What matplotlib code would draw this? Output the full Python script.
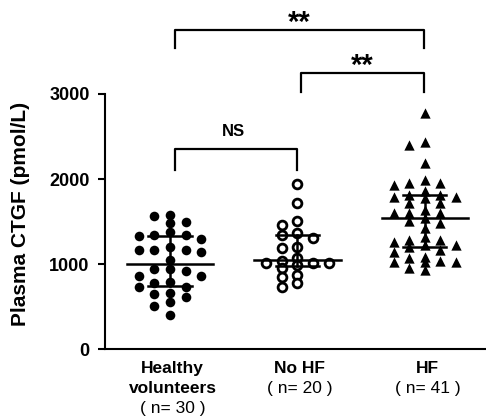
import numpy as np
import matplotlib
matplotlib.use("Agg")
import matplotlib.pyplot as plt

plt.rcParams['font.family'] = ['Liberation Sans', 'DejaVu Sans']

# values (pmol/L)
healthy = [1574, 1571, 1496, 1484, 1378, 1338, 1338, 1335, 1299, 1201,
           1169, 1169, 1169, 1149, 1051, 945, 945, 925, 862, 862,
           795, 776, 729, 729, 658, 650, 611, 559, 508, 402]
no_hf = [1945, 1721, 1511, 1460, 1363, 1343, 1304, 1206, 1187, 1069,
         1040, 1011, 1011, 1011, 991, 952, 873, 853, 776, 736]
hf = [2775, 2436, 2397, 2185, 1989, 1958, 1950, 1930, 1864, 1813,
      1813, 1793, 1793, 1774, 1716, 1716, 1637, 1598, 1598, 1598,
      1539, 1504, 1481, 1422, 1323, 1284, 1284, 1264, 1225, 1225,
      1206, 1170, 1147, 1081, 1069, 1041, 1029, 1029, 1029, 952, 932]

groups = [healthy, no_hf, hf]
names = [["Healthy", "volunteers"], ["No HF"], ["HF"]]
counts = ["( n= 30 )", "( n= 20 )", "( n= 41 )"]
# comparisons: (left group, right group, label)
comparisons = [(0, 2, "**"), (1, 2, "**"), (0, 1, "NS")]


def swarm(vals, step=0.122, gap=85):
    # simple grid beeswarm, at most 5 columns
    vals = np.asarray(vals, float)
    order = np.argsort(vals)[::-1]
    placed = {}
    offs = np.zeros(len(vals))
    slots = [0, -1, 1, -2, 2]
    for i in order:
        v = vals[i]
        best, bestd = 0, -1
        for k in slots:
            d = min([abs(v - u) for u in placed.get(k, [])] + [1e9])
            if d >= gap:
                best = k
                break
            if d > bestd:
                best, bestd = k, d
        placed.setdefault(best, []).append(v)
        offs[i] = best * step
    return offs


fig = plt.figure(figsize=(4.86, 4.2), dpi=100)
ax = fig.add_axes([105 / 486, 70.7 / 420, 381 / 486, 334.3 / 420])

styles = [dict(marker='o', s=48, c='black', edgecolors='black', linewidths=0),
          dict(marker='o', s=40, facecolors='white', edgecolors='black', linewidths=2.0),
          dict(marker='^', s=55, c='black', edgecolors='black', linewidths=0)]

for i, vals in enumerate(groups):
    x = i + swarm(vals)
    ax.scatter(x, vals, zorder=2, **styles[i])
    q1, med, q3 = np.percentile(vals, [25, 50, 75])
    ax.plot([i - 0.34, i + 0.34], [med, med], color='black', lw=1.8, zorder=3)
    ax.plot([i - 0.17, i + 0.17], [q1, q1], color='black', lw=1.8, zorder=3)
    ax.plot([i - 0.17, i + 0.17], [q3, q3], color='black', lw=1.8, zorder=3)
    ax.plot([i, i], [q1, q3], color='black', lw=1.8, zorder=3)

# significance brackets
bracket_y = [3752, 3250, 2354]
leg = [211, 223, 247]
left_x = {0: 0.04, 1: 1.03}
for (a, b, lab), y, d in zip(comparisons, bracket_y, leg):
    xa = left_x[a] if lab != "NS" else a + 0.04
    xb = b - 0.01 if lab != "NS" else b
    ax.plot([xa, xa, xb, xb], [y - d, y, y, y - d], color='black', lw=1.6,
            clip_on=False)
    if lab == "NS":
        ax.text((xa + xb) / 2 - 0.02, y + 120, lab, ha='center', va='bottom',
                fontsize=12, fontweight='bold')
    else:
        ax.text((xa + xb) / 2, y - 80, lab, ha='center', va='bottom',
                fontsize=21, fontweight='bold')

ax.set_xlim(-0.51, 2.48)
ax.set_ylim(0, 3928)
ax.set_yticks([0, 1000, 2000, 3000])
ax.set_xticks([])
ax.spines['top'].set_visible(False)
ax.spines['right'].set_visible(False)
ax.spines['left'].set_bounds(0, 3000)
ax.spines['left'].set_linewidth(1.5)
ax.spines['bottom'].set_linewidth(1.5)
ax.tick_params(axis='y', length=5, width=1.5, pad=6, labelsize=13)
for t in ax.get_yticklabels():
    t.set_fontweight('bold')

ax.set_ylabel("Plasma CTGF (pmol/L)", fontsize=15, fontweight='bold')
ax.yaxis.set_label_coords(-0.197, 0.406)

# category labels: bold names, then plain counts; one line = 14.4 pt
for i in range(3):
    lines = names[i] + [counts[i]]
    for j, txt in enumerate(lines):
        bold = j < len(names[i])
        ax.annotate(txt, xy=(i + 0.02, 0), xycoords=('data', 'axes fraction'),
                    xytext=(0, -13.5 - 14.4 * j), textcoords='offset points',
                    ha='center', va='center', fontsize=12.5,
                    fontweight='bold' if bold else 'normal')

fig.savefig("out.png", dpi=100)
